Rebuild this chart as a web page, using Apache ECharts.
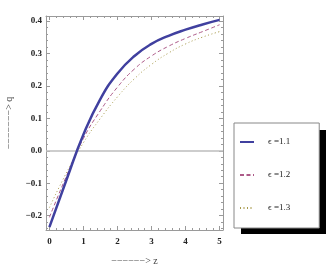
<!DOCTYPE html>
<html><head><meta charset="utf-8">
<script src="https://cdn.jsdelivr.net/npm/echarts@6/dist/echarts.min.js"></script>
<style>html,body{margin:0;padding:0;background:#fff}#c{width:327px;height:273px}</style>
</head><body><div id="c"></div>
<script>
// z values (x axis)
const zVals = [0, 0.5, 1, 1.5, 2, 2.5, 3, 3.5, 4, 4.5, 5];
// q values
const qEps11 = [-0.235, -0.090, 0.050, 0.160, 0.238, 0.292, 0.329, 0.354, 0.373, 0.389, 0.403];
const qEps12 = [-0.205, -0.078, 0.038, 0.124, 0.196, 0.252, 0.292, 0.322, 0.346, 0.367, 0.388];
const qEps13 = [-0.175, -0.068, 0.025, 0.100, 0.166, 0.222, 0.266, 0.301, 0.329, 0.350, 0.367];
const seriesNames = ['\u03f5 =1.1', '\u03f5 =1.2', '\u03f5 =1.3'];
// tick labels
const xTicks = [0, 1, 2, 3, 4, 5];
const yTicks = [-0.2, -0.1, 0.0, 0.1, 0.2, 0.3, 0.4];
const xMinor = [];
for (let k = 0; k <= 25; k++) if (k % 5) xMinor.push(+(k * 0.2).toFixed(2));
const yMinor = [];
for (let k = -12; k <= 20; k++) if (k % 5) yMinor.push(+(k * 0.02).toFixed(2));

const X_MIN = -0.1, X_MAX = 5.1, Y_MIN = -0.244, Y_MAX = 0.415;
const frame = '#9a9a9a';
const labelFont = { fontFamily: 'Liberation Serif', fontWeight: 'bold', fontSize: 9, color: '#222' };

function xAxisDef(pos, ticks, len, withLine, withLabels) {
  return {
    type: 'value', position: pos, min: X_MIN, max: X_MAX,
    axisLine: { show: withLine, onZero: false, lineStyle: { color: frame, width: 1 } },
    axisTick: { show: true, inside: true, length: len, customValues: ticks, lineStyle: { color: frame, width: 1 } },
    axisLabel: withLabels ? Object.assign({ show: true, customValues: xTicks, margin: 7, formatter: v => String(Math.round(v)) }, labelFont) : { show: false },
    splitLine: { show: false }
  };
}
function yAxisDef(pos, ticks, len, withLine, withLabels) {
  return {
    type: 'value', position: pos, min: Y_MIN, max: Y_MAX,
    axisLine: { show: withLine, onZero: false, lineStyle: { color: frame, width: 1 } },
    axisTick: { show: true, inside: true, length: len, customValues: ticks, lineStyle: { color: frame, width: 1 } },
    axisLabel: withLabels ? Object.assign({ show: true, customValues: yTicks, margin: 4, formatter: v => v.toFixed(1).replace('-', '\u2212') }, labelFont) : { show: false },
    splitLine: { show: false }
  };
}

const xAxes = [
  xAxisDef('bottom', xTicks, 4, true, true),
  xAxisDef('bottom', xMinor, 2, false, false),
  xAxisDef('top', xTicks, 4, true, false),
  xAxisDef('top', xMinor, 2, false, false)
];
xAxes[0].name = '\u2212\u2212\u2212\u2212\u2212\u2212> z';
xAxes[0].nameLocation = 'middle';
xAxes[0].nameGap = 26;
xAxes[0].nameTextStyle = { fontFamily: 'Liberation Serif', fontSize: 10, color: '#444' };
const yAxes = [
  yAxisDef('left', yTicks, 4, true, true),
  yAxisDef('left', yMinor, 2, false, false),
  yAxisDef('right', yTicks, 4, true, false),
  yAxisDef('right', yMinor, 2, false, false)
];
yAxes[0].name = '\u2212\u2212\u2212\u2212\u2212\u2212\u2212> q';
yAxes[0].nameLocation = 'middle';
yAxes[0].nameGap = 27;
yAxes[0].nameTextStyle = { fontFamily: 'Liberation Serif', fontSize: 10, color: '#444' };

const pair = arr => zVals.map((z, i) => [z, arr[i]]);

const chart = echarts.init(document.getElementById('c'), null, { renderer: 'canvas' });
chart.setOption({
  animation: false,
  backgroundColor: '#fff',
  grid: { left: 46, top: 16, right: 104, bottom: 43, containLabel: false, outerBoundsMode: 'none' },
  xAxis: xAxes,
  yAxis: yAxes,
  graphic: [{
    type: 'rect', z: 0, silent: true,
    shape: { x: 241, y: 130, width: 85, height: 104 },
    style: { fill: '#000' }
  }],
  legend: {
    orient: 'vertical', left: 234, top: 123, z: 5,
    data: seriesNames,
    itemWidth: 14, itemHeight: 12, itemGap: 21,
    padding: [13, 29, 14, 5],
    backgroundColor: '#fff', borderColor: '#888', borderWidth: 1,
    itemStyle: { opacity: 0, color: 'rgba(0,0,0,0)', borderWidth: 0 },
    textStyle: { fontFamily: 'Liberation Serif', fontSize: 9, color: '#222', padding: [0, 0, 0, 9], lineHeight: 12 }
  },
  series: [
    {
      type: 'line', name: '__zero', data: [], z: 1, silent: true,
      markLine: { silent: true, symbol: 'none', label: { show: false },
        lineStyle: { color: '#bdbdbd', width: 1.5, type: 'solid' }, data: [{ yAxis: 0 }] }
    },
    { type: 'line', name: seriesNames[2], data: pair(qEps13), smooth: 0.5, symbol: 'none', z: 3,
      lineStyle: { color: '#a89a4a', width: 1, type: [1, 2.5] }, itemStyle: { color: '#a89a4a' } },
    { type: 'line', name: seriesNames[1], data: pair(qEps12), smooth: 0.5, symbol: 'none', z: 4,
      lineStyle: { color: '#ad5a88', width: 1, type: [4, 2.5] }, itemStyle: { color: '#ad5a88' } },
    { type: 'line', name: seriesNames[0], data: pair(qEps11), smooth: 0.5, symbol: 'none', z: 5,
      lineStyle: { color: '#40409f', width: 2.5, type: 'solid' }, itemStyle: { color: '#40409f' } }
  ]
});
</script></body></html>
